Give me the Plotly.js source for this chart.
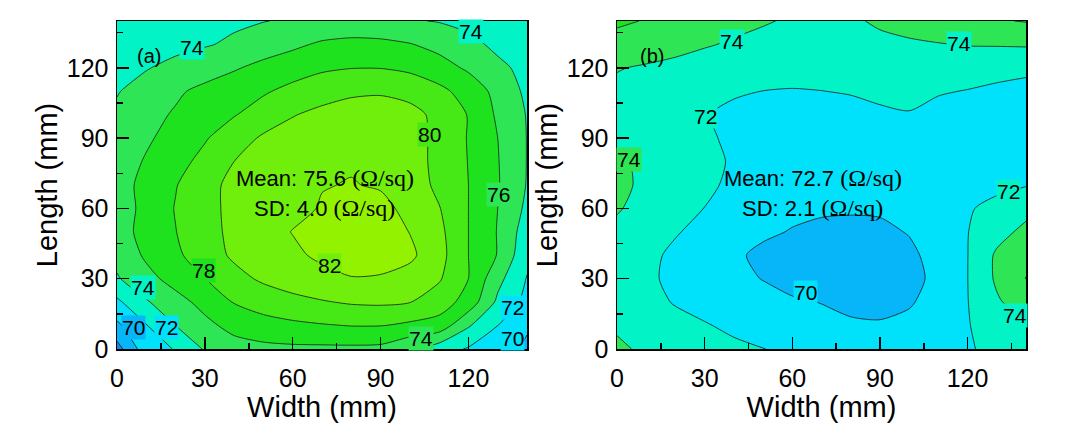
<!DOCTYPE html>
<html>
<head>
<meta charset="utf-8">
<script src="https://cdn.plot.ly/plotly-3.0.1.min.js"></script>
<style>
html,body{margin:0;padding:0;background:#fff;}
#chart{width:1080px;height:440px;}
</style>
</head>
<body>
<div id="chart"></div>
<script>
// grid positions (mm)
var widthMM  = [0,10,20,30,40,50,60,70,80,90,100,110,120,130,140];
var lengthMM = [0,10,20,30,40,50,60,70,80,90,100,110,120,130,140];

// (a) sheet resistance (Ohm/sq), rows = Length 0..140
var sheetA = [
  [67.2,71.2,72.1,74.2,75.2,75.5,75.6,75.6,75.6,75.5,74.3,72.9,71.8,70.8,69.7],
  [69.6,71.9,74.0,75.5,76.6,77.2,77.6,77.85,78.05,78.05,77.6,77.2,74.2,72.0,70.2],
  [71.6,73.8,75.3,76.6,78.1,78.9,79.4,79.85,80.2,80.3,80.05,79.0,77.2,73.6,71.4],
  [73.8,75.4,76.7,77.97,79.4,80.3,81.0,81.5,81.9,81.8,81.2,80.2,78.0,74.6,71.9],
  [74.6,76.3,77.6,79.1,80.3,81.2,81.7,82.3,82.9,82.9,82.4,80.7,78.0,75.9,72.5],
  [75.1,76.7,77.95,79.4,80.4,81.4,82.05,82.6,83.0,83.0,81.95,80.5,78.0,75.9,73.0],
  [75.1,76.5,78.1,79.4,80.5,81.2,81.6,82.1,82.6,82.3,81.7,80.1,78.0,76.0,73.6],
  [75.3,76.5,77.9,79.3,80.55,81.1,81.7,81.95,82.05,81.9,81.2,79.5,78.0,76.15,73.9],
  [74.9,76.2,77.4,78.5,80.0,81.0,81.6,81.8,81.9,81.9,81.1,79.3,77.95,76.1,73.95],
  [74.6,75.7,76.8,77.85,79.0,80.3,80.8,81.3,81.6,81.7,81.1,79.3,77.9,76.0,73.95],
  [74.3,75.4,76.2,77.0,77.9,78.8,79.9,80.5,80.8,80.9,80.6,79.5,77.9,75.7,73.9],
  [73.9,74.7,75.7,76.5,77.2,77.8,78.5,79.2,79.7,79.8,79.4,78.5,77.2,75.4,73.6],
  [73.4,73.9,74.5,75.1,75.8,76.6,77.2,77.7,77.95,77.95,77.6,76.8,75.7,74.4,73.5],
  [72.8,73.2,73.5,73.85,74.3,74.9,75.6,76.3,76.6,76.5,76.1,75.4,74.5,73.6,73.1],
  [72.6,72.9,73.2,73.5,73.7,73.95,74.2,74.4,74.5,74.4,74.15,73.9,73.5,73.2,73.0]
];

// (b) sheet resistance (Ohm/sq), rows = Length 0..140
var sheetB = [
  [74.4,73.6,73.2,72.8,72.4,72.03,71.7,71.5,71.4,71.35,71.4,71.6,71.85,72.4,73.0],
  [73.7,73.3,72.7,72.15,71.6,71.2,70.9,70.6,70.3,70.2,70.5,71.2,71.9,72.9,73.4],
  [73.6,72.7,71.85,71.3,70.9,70.55,70.25,69.95,69.5,69.4,69.8,70.8,71.95,73.75,75.0],
  [73.4,72.4,71.5,70.9,70.4,69.95,69.3,68.9,68.7,68.8,69.4,70.5,71.98,74.3,76.03],
  [73.4,72.5,71.6,70.9,70.3,69.6,69.2,69.0,68.9,69.0,69.6,70.7,71.97,74.3,75.7],
  [73.6,72.8,72.15,71.4,70.8,70.3,69.9,69.6,69.5,69.6,70.1,70.9,71.95,73.3,74.5],
  [74.15,73.4,72.7,71.97,71.2,70.7,70.4,70.25,70.2,70.25,70.4,70.8,71.8,72.6,73.4],
  [74.6,73.5,72.9,72.4,71.6,71.0,70.7,70.6,70.6,70.7,70.8,70.9,71.1,71.5,71.9],
  [74.3,73.6,73.0,72.5,71.8,71.2,70.9,70.8,70.85,70.9,70.95,70.95,70.9,70.95,71.0],
  [73.7,73.3,72.8,72.25,71.7,71.3,71.1,71.05,71.1,71.2,71.25,71.2,71.1,71.05,71.0],
  [73.2,73.0,72.6,72.1,71.6,71.3,71.2,71.3,71.5,71.85,71.96,71.6,71.3,71.1,71.1],
  [73.6,73.3,72.9,72.5,72.2,71.98,71.9,71.98,72.1,72.2,72.2,72.1,71.95,71.8,71.5],
  [74.1,73.8,73.5,73.2,72.95,72.8,72.7,72.65,72.7,72.8,72.9,72.8,72.6,72.35,72.35],
  [75.3,75.0,74.6,74.15,73.8,73.5,73.3,73.2,73.3,73.5,73.7,73.9,74.1,74.15,74.2],
  [76.3,75.9,75.4,74.9,74.5,74.15,73.8,73.5,73.7,74.3,74.8,75.3,75.6,75.85,76.1]
];

var tickVals   = [0,30,60,90,120];
var tickLabels = ['0','30','60','90','120'];
var panelTags  = ['(a)','(b)'];
var meanLines  = ['Mean: 75.6 ','Mean: 72.7 '];
var sdLines    = ['SD: 4.0 ','SD: 2.1 '];

// contour level labels (text = level value)
var levelLabelsA = ['74','74','80','76','78','82','74','70','72','72','70','74'];
var levelLabelsB = ['74','74','72','74','72','70','74'];

// band colours, one per band: <68, 68-70, 70-72, 72-74, 74-76, 76-78, 78-80, 80-82, >82
var bandColors = ['#1a84ee','#06b6f8','#00e2fb','#02f4c6','#2ee655','#1fe21f','#46e915','#6fef0b','#92f200'];

function steppedScale(cols){
  var n = cols.length, s = [];
  for (var i=0;i<n;i++){
    var a = i===0 ? 0 : (i-0.5)/(n-1);
    var b = i===n-1 ? 1 : (i+0.5)/(n-1);
    s.push([a, cols[i]]); s.push([b, cols[i]]);
  }
  return s;
}
var cscale = steppedScale(bandColors);

function contourTrace(z, xa, ya){
  return {
    type:'contour', x: widthMM, y: lengthMM, z: z,
    xaxis: xa, yaxis: ya,
    colorscale: cscale, showscale:false,
    autocontour:false,
    contours:{start:68, end:82, size:2, coloring:'fill', showlabels:false},
    line:{color:'#1a1a1a', width:0.8, smoothing:0.7},
    hoverinfo:'skip'
  };
}

var sans = 'Liberation Sans, Arial, sans-serif';
var axisFont = {family:sans, size:25, color:'#000'};
var titleFont = {family:sans, size:29, color:'#000'};

function xAxis(domain, anchor){
  return {domain:domain, anchor:anchor, range:[0,140], tickvals:tickVals, ticktext:tickLabels,
    ticks:'inside', ticklen:12, tickwidth:1.5, tickcolor:'#000', ticklabelstandoff:6,
    minor:{dtick:15, tick0:0, ticks:'inside', ticklen:6, tickwidth:1.5, tickcolor:'#000', showgrid:false},
    showline:true, linecolor:'#000', linewidth:1.5, mirror:true,
    showgrid:false, zeroline:false, tickfont:axisFont,
    title:{text:'Width (mm)', font:titleFont, standoff:0}};
}
function yAxis(domain, anchor){
  return {domain:domain, anchor:anchor, range:[0,140], tickvals:tickVals, ticktext:tickLabels,
    ticks:'inside', ticklen:12, tickwidth:1.5, tickcolor:'#000', ticklabelstandoff:2,
    minor:{dtick:15, tick0:0, ticks:'inside', ticklen:6, tickwidth:1.5, tickcolor:'#000', showgrid:false},
    showline:true, linecolor:'#000', linewidth:1.5, mirror:true,
    showgrid:false, zeroline:false, tickfont:axisFont,
    title:{text:'Length (mm)', font:titleFont, standoff:0}};
}

var yDom = [1-349/440, 1-21/440];
var layout = {
  width:1080, height:440,
  margin:{l:0,r:0,t:0,b:0},
  paper_bgcolor:'#fff', plot_bgcolor:'#fff',
  showlegend:false,
  xaxis: xAxis([117/1080, 527/1080], 'y'),
  yaxis: yAxis(yDom, 'x'),
  xaxis2: xAxis([617/1080, 1026/1080], 'y2'),
  yaxis2: yAxis(yDom, 'x2'),
  annotations: []
};

var serif = '<span style="font-family:Liberation Serif,Times New Roman,serif;font-size:24px">(Ω/sq)</span>';
var textFont = {family:sans, size:22, color:'#000'};
var xrefs = ['x','x2'], yrefs = ['y','y2'];
var tagX = [11,12], tagY = [125,125];
var statX = [71,67], meanY = [73,73], sdY = [60,60];
for (var k=0;k<2;k++){
  layout.annotations.push({xref:xrefs[k], yref:yrefs[k], x:tagX[k], y:tagY[k], text:panelTags[k],
    showarrow:false, font:{family:sans, size:20, color:'#000'}});
  layout.annotations.push({xref:xrefs[k], yref:yrefs[k], x:statX[k], y:meanY[k], text:meanLines[k]+serif,
    showarrow:false, font:textFont});
  layout.annotations.push({xref:xrefs[k], yref:yrefs[k], x:statX[k], y:sdY[k], text:sdLines[k]+serif,
    showarrow:false, font:textFont});
}

// label placement (layout only): x, y in mm, band index for the label backdrop
var labelPosA = [[25.5,128.5,3],[120.8,135.5,3],[106.7,91.4,6],[130.2,65.9,4],[29.5,33.3,5],[72.5,35.5,7],
                 [8.8,26.2,3],[5.6,9.2,1],[16.8,9.2,2],[134.9,17.7,2],[135.2,4.6,2],[103.7,4.3,4]];
var labelPosB = [[39.2,131.1,3],[117,130.4,3],[30.4,99.2,3],[4.2,80.8,4],[134.1,67.3,3],[64.6,24.1,2],[136.3,14.2,3]];
function addLabels(texts, pos, xr, yr){
  for (var i=0;i<texts.length;i++){
    layout.annotations.push({xref:xr, yref:yr, x:pos[i][0], y:pos[i][1], text:texts[i], showarrow:false,
      bgcolor:bandColors[pos[i][2]], borderpad:0, font:{family:sans, size:21, color:'#000'}});
  }
}
addLabels(levelLabelsA, labelPosA, 'x', 'y');
addLabels(levelLabelsB, labelPosB, 'x2', 'y2');

Plotly.newPlot('chart', [contourTrace(sheetA,'x','y'), contourTrace(sheetB,'x2','y2')], layout,
  {staticPlot:true, displayModeBar:false});
</script>
</body>
</html>
